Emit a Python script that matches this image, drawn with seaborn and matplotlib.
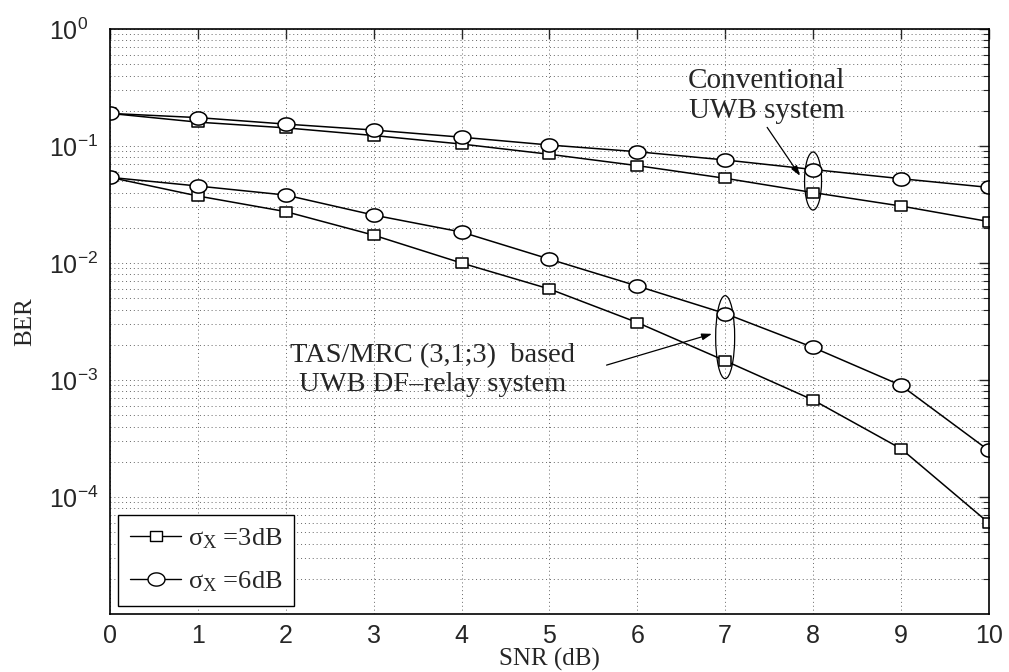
import numpy as np
import pandas as pd
import matplotlib
matplotlib.use("Agg")
import matplotlib.pyplot as plt
import matplotlib.transforms as mtransforms
from matplotlib.patches import Ellipse
from matplotlib.lines import Line2D
from matplotlib.path import Path
import seaborn as sns

# ---- data ----
snr = [0, 1, 2, 3, 4, 5, 6, 7, 8, 9, 10]
conv_3db = [0.19, 0.16, 0.143, 0.123, 0.104, 0.085, 0.068, 0.053, 0.040, 0.0307, 0.0226]
conv_6db = [0.19, 0.175, 0.154, 0.137, 0.119, 0.102, 0.0894, 0.076, 0.063, 0.0526, 0.0443]
tas_3db = [0.054, 0.0374, 0.0275, 0.0173, 0.0100, 0.0060, 0.0031, 0.00146, 0.000675, 0.000259, 0.000060]
tas_6db = [0.054, 0.0455, 0.0381, 0.0257, 0.0184, 0.0108, 0.00636, 0.0037, 0.0019, 0.0009, 0.00025]
legend_labels = ["σ$_{\\mathrm{X}}$ =3dB", "σ$_{\\mathrm{X}}$ =6dB"]
ytick_vals = [1e-4, 1e-3, 1e-2, 1e-1, 1e0]
ytick_labels = ["$\\mathsf{10^{-4}}$", "$\\mathsf{10^{-3}}$", "$\\mathsf{10^{-2}}$",
                "$\\mathsf{10^{-1}}$", "$\\mathsf{10^{0}}$"]

sns.set_style("white")
plt.rcParams.update({
    "font.family": ["Liberation Sans", "DejaVu Sans"],
    "mathtext.fontset": "custom",
    "mathtext.rm": "Liberation Serif",
    "mathtext.it": "Liberation Serif:italic",
    "mathtext.sf": "Liberation Sans",
    "xtick.direction": "in",
    "ytick.direction": "in",
})

# slightly wide markers (the reference is horizontally stretched)
t = np.linspace(0, 2 * np.pi, 41)
ell_marker = Path(np.column_stack([np.cos(t), 0.78 * np.sin(t)]), closed=True)
rect_marker = Path([(-1, -0.87), (1, -0.87), (1, 0.87), (-1, 0.87), (-1, -0.87)], closed=True)

fig = plt.figure(figsize=(10.09, 6.72), dpi=100)
ax = fig.add_axes([0.109, 0.0863, 0.871, 0.8705])

series = [
    (conv_3db, rect_marker, 9),
    (conv_6db, ell_marker, 12.2),
    (tas_3db, rect_marker, 9),
    (tas_6db, ell_marker, 12.2),
]
for vals, mk, ms in series:
    df = pd.DataFrame({"snr": snr, "ber": vals})
    sns.lineplot(data=df, x="snr", y="ber", ax=ax, color="black", lw=1.1,
                 marker=mk, markersize=ms, markerfacecolor="white",
                 markeredgecolor="black", markeredgewidth=1.1, legend=False)

ax.set_yscale("log")
ax.set_xlim(0, 10)
ax.set_ylim(1e-5, 1e0)
ax.set_xticks(snr)
ax.set_xticklabels([str(v) for v in snr], fontsize=18)
ax.set_yticks(ytick_vals)
ax.set_yticklabels(ytick_labels, fontsize=18)
ax.yaxis.set_minor_locator(matplotlib.ticker.LogLocator(base=10, subs=np.arange(2, 10), numticks=20))
ax.yaxis.set_minor_formatter(matplotlib.ticker.NullFormatter())
ax.tick_params(which="both", top=True, right=True, direction="in")
ax.tick_params(which="major", length=7, width=1.0)
ax.tick_params(which="minor", length=4, width=0.8)
ax.tick_params(axis="x", which="major", pad=7)
ax.tick_params(axis="y", which="major", pad=44)
for lab in ax.get_yticklabels():
    lab.set_ha("left")
ax.grid(True, which="major", axis="both", ls=(0, (1, 3)), lw=0.7, color="0.4")
ax.grid(True, which="minor", axis="y", ls=(0, (1, 3)), lw=0.7, color="0.4")
for s in ax.spines.values():
    s.set_color("black")
    s.set_linewidth(1.2)

ax.set_xlabel("SNR (dB)", fontsize=18, family="Liberation Serif", labelpad=0)
ax.set_ylabel("BER", fontsize=18, family="Liberation Serif", labelpad=9)

# ellipses grouping points
def add_ellipse(xv, y1, y2, w_in, h_in):
    yc = np.sqrt(y1 * y2)
    trans = fig.dpi_scale_trans + mtransforms.ScaledTranslation(xv, yc, ax.transData)
    e = Ellipse((0, 0), w_in, h_in, transform=trans, fill=False, ec="black", lw=0.9)
    ax.add_patch(e)

add_ellipse(snr[8], conv_3db[8], conv_6db[8], 0.17, 0.58)
add_ellipse(snr[7], tas_3db[7], tas_6db[7], 0.19, 0.83)

# annotations
ax.text(7.47, 0.27, "Conventional\nUWB system", ha="center", va="center",
        fontsize=21, family="Liberation Serif", linespacing=1.2)
ax.annotate("", xy=(7.87, 0.0532), xytext=(7.46, 0.151),
            arrowprops=dict(arrowstyle="-|>,head_length=0.6,head_width=0.2", color="black", lw=0.9))
ax.text(3.67, 0.00122, "TAS/MRC (3,1;3)  based\nUWB DF\u2013relay system", ha="center", va="center",
        fontsize=20.5, family="Liberation Serif", linespacing=1.2)
ax.annotate("", xy=(6.88, 0.00252), xytext=(5.62, 0.00132),
            arrowprops=dict(arrowstyle="-|>,head_length=0.6,head_width=0.2", color="black", lw=0.9))

handles = [
    Line2D([], [], color="black", lw=1.0, marker=rect_marker, markersize=9, markerfacecolor="white",
           markeredgecolor="black"),
    Line2D([], [], color="black", lw=1.0, marker=ell_marker, markersize=12.2, markerfacecolor="white",
           markeredgecolor="black"),
]
leg = ax.legend(handles, legend_labels, loc="lower left", fancybox=False, framealpha=1,
                edgecolor="black", prop={"family": "Liberation Serif", "size": 19},
                handlelength=1.95, handletextpad=0.25, borderaxespad=0.3, borderpad=0.45,
                labelspacing=0.7)
leg.get_frame().set_linewidth(1.0)

fig.savefig("out.png", dpi=100)
